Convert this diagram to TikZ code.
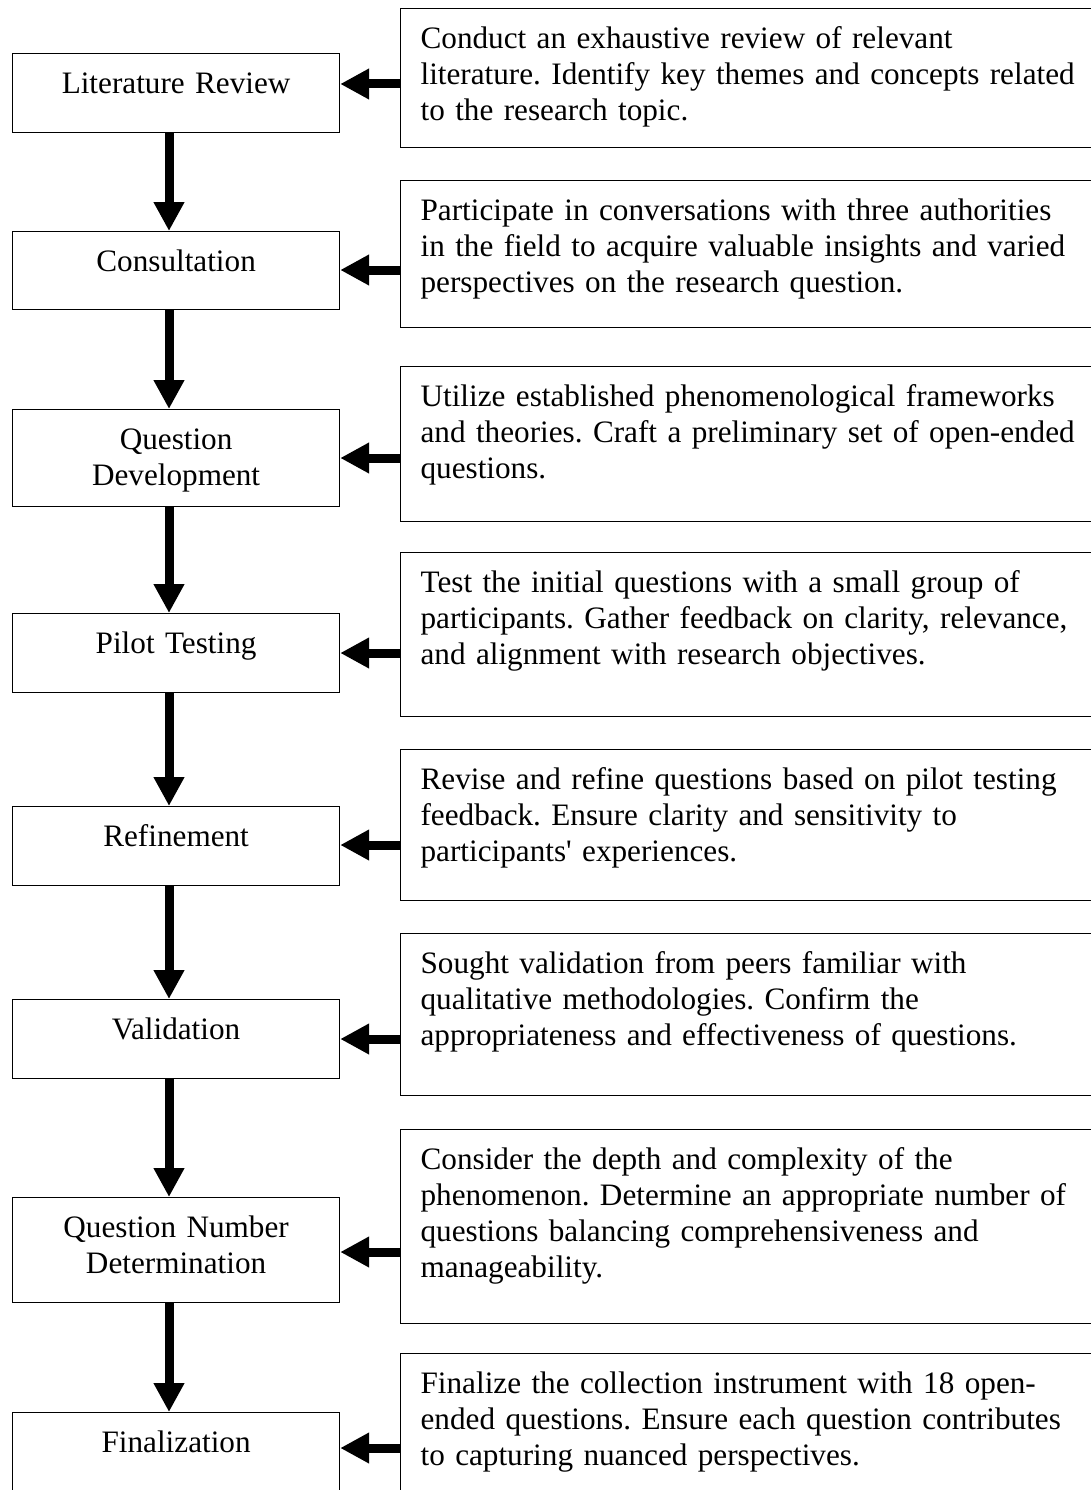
\documentclass[tikz,border=0pt]{standalone}
\usepackage{fontspec}
\setmainfont{Liberation Serif}
\usetikzlibrary{arrows.meta}
\frenchspacing

\begin{document}
\begin{tikzpicture}[x=1pt, y=-1pt,
  every node/.style={draw, line width=1.2pt, anchor=north west, inner ysep=14pt, text height=26pt,
    font=\fontsize{31.2}{36}\selectfont},
  stage/.style={text width=300pt, inner xsep=13.5pt, align=center, text depth=#1},
  note/.style={text width=680pt, inner xsep=20pt, align=left, text depth=#1},
  flow/.style={line width=9pt, -{Triangle[length=29pt, width=29pt]}}]
  \useasboundingbox (0,0) rectangle (1091,1490);
  \clip (0,0) rectangle (1091,1490);

  % steps
  \node (lit) [stage=25pt] at (12,53)   {Literature Review};
  \node (con) [stage=24pt] at (12,231)  {Consultation};
  \node (dev) [stage=43pt] at (12,409)  {Question\\Development};
  \node (pil) [stage=25pt] at (12,613)  {Pilot Testing};
  \node (ref) [stage=25pt] at (12,806)  {Refinement};
  \node (val) [stage=25pt] at (12,999)  {Validation};
  \node (num) [stage=51pt] at (12,1197) {Question Number\\Determination};
  \node (fin) [stage=46pt] at (12,1412) {Finalization};

  % notes
  \node (litnote) [note=85pt] at (400,8) {Conduct an exhaustive review of relevant\\literature. Identify key themes and concepts related\\to the research topic.};
  \node (connote) [note=93pt] at (400,180) {Participate in conversations with three authorities\\in the field to acquire valuable insights and varied\\perspectives on the research question.};
  \node (devnote) [note=101pt] at (400,366) {Utilize established phenomenological frameworks\\and theories. Craft a preliminary set of open-ended\\questions.};
  \node (pilnote) [note=110pt] at (400,552) {Test the initial questions with a small group of\\participants. Gather feedback on clarity, relevance,\\and alignment with research objectives.};
  \node (refnote) [note=97pt] at (400,749) {Revise and refine questions based on pilot testing\\feedback. Ensure clarity and sensitivity to\\participants\textquotesingle\ experiences.};
  \node (valnote) [note=108pt] at (400,933) {Sought validation from peers familiar with\\qualitative methodologies. Confirm the\\appropriateness and effectiveness of questions.};
  \node (numnote) [note=140pt] at (400,1129) {Consider the depth and complexity of the\\phenomenon. Determine an appropriate number of\\questions balancing comprehensiveness and\\manageability.};
  \node (finnote) [note=146pt] at (400,1353) {Finalize the collection instrument with 18 open-\\ended questions. Ensure each question contributes\\to capturing nuanced perspectives.};

  % down the column
  \coordinate (spine) at (169,0);
  \draw[flow] (lit.south -| spine) -- (con.north -| spine);
  \draw[flow] (con.south -| spine) -- (dev.north -| spine);
  \draw[flow] (dev.south -| spine) -- (pil.north -| spine);
  \draw[flow] (pil.south -| spine) -- (ref.north -| spine);
  \draw[flow] (ref.south -| spine) -- (val.north -| spine);
  \draw[flow] (val.south -| spine) -- (num.north -| spine);
  \draw[flow] (num.south -| spine) -- (fin.north -| spine);

  % notes into steps
  \draw[flow] (litnote.west |- 0,84)   -- (lit.east |- 0,84);
  \draw[flow] (connote.west |- 0,270)  -- (con.east |- 0,270);
  \draw[flow] (devnote.west |- 0,458)  -- (dev.east |- 0,458);
  \draw[flow] (pilnote.west |- 0,653)  -- (pil.east |- 0,653);
  \draw[flow] (refnote.west |- 0,845)  -- (ref.east |- 0,845);
  \draw[flow] (valnote.west |- 0,1039) -- (val.east |- 0,1039);
  \draw[flow] (numnote.west |- 0,1252) -- (num.east |- 0,1252);
  \draw[flow] (finnote.west |- 0,1448) -- (fin.east |- 0,1448);
\end{tikzpicture}
\end{document}
